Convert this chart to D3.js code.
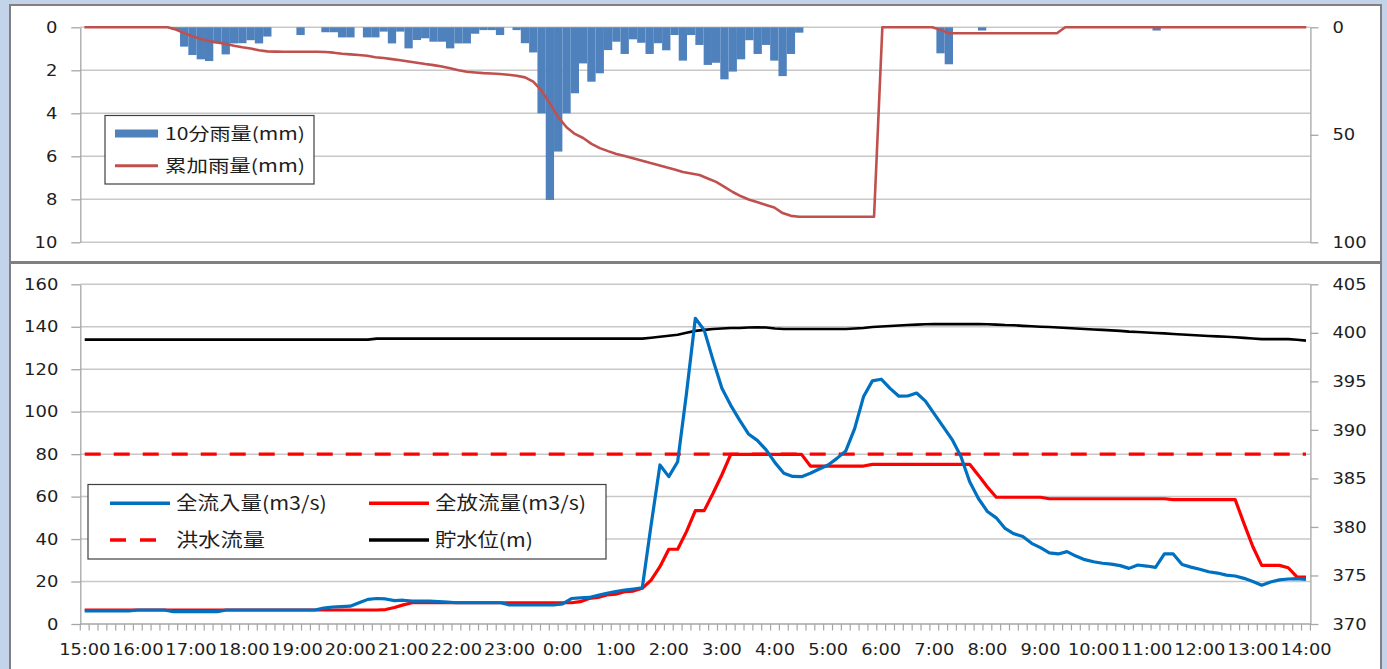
<!DOCTYPE html>
<html>
<head>
<meta charset="utf-8">
<script src="https://cdn.jsdelivr.net/npm/d3@7"></script>
<style>
  html, body { margin: 0; padding: 0; background: #c3d4ea; }
  svg { display: block; }
</style>
</head>
<body>
<svg id="chart" width="1387" height="669"></svg>
<script>
// hour labels shown under the lower chart
const hourLabels = ["15:00","16:00","17:00","18:00","19:00","20:00","21:00","22:00","23:00","0:00","1:00","2:00","3:00",
  "4:00","5:00","6:00","7:00","8:00","9:00","10:00","11:00","12:00","13:00","14:00"];

// 10 minute rainfall (mm), upper chart bars
const rain10 = [
  0,0,0,0,0,0,0,0,0,0,
  0,0.13,0.9,1.29,1.49,1.57,0.75,1.26,0.75,0.74,
  0.6,0.75,0.43,0,0,0,0.36,0,0,0.23,
  0.23,0.47,0.47,0,0.47,0.47,0.2,0.75,0.2,0.98,
  0.59,0.51,0.67,0.67,0.98,0.75,0.75,0.3,0.13,0.13,
  0.36,0,0.13,0.74,1.17,4.0,8.03,5.78,4.0,3.07,
  1.68,2.53,2.14,1.06,0.67,1.24,0.56,0.72,1.24,0.74,
  1.07,0.36,1.55,0.36,0.82,1.75,1.65,2.42,2.06,1.49,
  0.6,1.24,0.82,1.55,2.27,1.24,0.25,0,0,0,
  0,0,0,0,0,0,0,0,0,0,
  0,0,0,1.21,1.72,0,0,0,0.15,0,
  0,0,0,0,0,0,0,0,0,0,
  0,0,0,0,0,0,0,0,0,0.15,
  0,0,0,0,0,0,0,0,0,0,
  0,0,0,0,0,0,0,0
];

// cumulative rainfall (mm), upper chart line, right axis
const cumRain = [
  0,0,0,0,0,0,0,0,0,0,
  0,1.0,2.7,4.2,5.4,6.4,7.1,7.8,8.6,9.3,
  9.9,10.7,11.2,11.3,11.4,11.4,11.4,11.4,11.4,11.5,
  11.8,12.3,12.6,12.9,13.2,13.9,14.3,14.8,15.3,15.9,
  16.5,17.1,17.6,18.2,19.0,20.0,20.7,21.0,21.3,21.5,
  21.7,22.1,22.5,23.3,25.3,29.5,35.5,41.8,46.5,49.6,
  51.5,54.2,56.2,57.6,58.9,59.9,60.9,61.9,63.0,64.0,
  65.1,66.1,67.3,68.0,68.7,70.3,71.9,74.2,76.6,78.6,
  80.2,81.4,82.6,83.8,86.4,87.7,88.1,88.1,88.1,88.1,
  88.1,88.1,88.1,88.1,88.1,88.1,0,0,0,0,
  0,0,0,1.2,2.8,2.8,2.8,2.8,2.8,2.8,
  2.8,2.8,2.8,2.8,2.8,2.8,2.8,2.8,0,0,
  0,0,0,0,0,0,0,0,0,0,
  0,0,0,0,0,0,0,0,0,0,
  0,0,0,0,0,0,0,0
];

// total inflow (m3/s), one row per hour
const inflow = [
  6.2,6.2,6.2,6.2,6.2,6.2,
  6.6,6.6,6.6,6.6,5.8,5.8,
  5.8,5.8,5.8,5.8,6.6,6.6,
  6.6,6.6,6.6,6.6,6.6,6.6,
  6.6,6.6,6.6,7.5,8.0,8.2,
  8.4,10.0,11.6,12.0,11.8,11.0,
  11.2,10.8,10.8,10.8,10.6,10.3,
  10.0,10.0,10.0,10.0,10.0,10.0,
  9.0,9.0,9.0,9.0,9.0,9.0,
  9.5,12.0,12.3,12.5,13.5,14.5,
  15.3,16.0,16.5,17.0,46.6,74.9,
  69.4,76.4,108.7,144.0,138.4,124.3,
  111.0,103.0,96.0,89.5,86.5,82.0,
  76.0,71.0,69.5,69.4,71.0,73.0,
  74.9,78.0,81.5,92.0,107.0,114.5,
  115.3,111.0,107.3,107.4,108.8,105.0,
  99.0,93.0,87.0,79.0,67.0,59.0,
  53.0,50.0,45.0,42.5,41.2,38.0,
  36.0,33.5,33.0,34.1,32.0,30.3,
  29.3,28.6,28.2,27.5,26.2,27.8,
  27.3,26.7,33.0,33.0,28.0,26.8,
  25.8,24.6,24.0,23.0,22.6,21.5,
  20.0,18.3,19.8,20.8,21.2,21.4,
  21.0
];

// total outflow (m3/s)
const outflow = [
  6.6,6.6,6.6,6.6,6.6,6.6,
  6.6,6.6,6.6,6.6,6.6,6.6,
  6.6,6.6,6.6,6.6,6.6,6.6,
  6.6,6.6,6.6,6.6,6.6,6.6,
  6.6,6.6,6.6,6.6,6.6,6.6,
  6.6,6.6,6.6,6.6,6.8,7.8,
  9.0,10.0,10.0,10.0,10.0,10.0,
  10.0,10.0,10.0,10.0,10.0,10.0,
  10.0,10.0,10.0,10.0,10.0,10.0,
  10.0,10.0,10.5,12.0,12.5,13.7,
  14.0,15.2,15.5,16.8,20.7,27.0,
  35.2,35.2,43.5,53.4,53.4,61.6,
  70.3,79.9,79.9,79.9,79.9,79.9,
  79.9,79.9,79.9,79.9,74.4,74.4,
  74.4,74.4,74.4,74.4,74.4,75.2,
  75.2,75.2,75.2,75.2,75.2,75.2,
  75.2,75.2,75.2,75.2,75.2,70.0,
  64.5,59.7,59.7,59.7,59.7,59.7,
  59.7,59.0,59.0,59.0,59.0,59.0,
  59.0,59.0,59.0,59.0,59.0,59.0,
  59.0,59.0,59.0,58.6,58.6,58.6,
  58.6,58.6,58.6,58.6,58.6,47.3,
  36.4,27.6,27.6,27.6,26.5,22.1,
  22.1
];

// reservoir water level (m), right axis
const waterLevel = [
  399.3,399.3,399.3,399.3,399.3,399.3,
  399.3,399.3,399.3,399.3,399.3,399.3,
  399.3,399.3,399.3,399.3,399.3,399.3,
  399.3,399.3,399.3,399.3,399.3,399.3,
  399.3,399.3,399.3,399.3,399.3,399.3,
  399.3,399.3,399.3,399.4,399.4,399.4,
  399.4,399.4,399.4,399.4,399.4,399.4,
  399.4,399.4,399.4,399.4,399.4,399.4,
  399.4,399.4,399.4,399.4,399.4,399.4,
  399.4,399.4,399.4,399.4,399.4,399.4,
  399.4,399.4,399.4,399.4,399.5,399.6,
  399.7,399.8,400.0,400.2,400.3,400.4,
  400.45,400.5,400.5,400.55,400.57,400.55,
  400.45,400.4,400.4,400.4,400.4,400.4,
  400.4,400.4,400.4,400.45,400.5,400.6,
  400.65,400.7,400.75,400.8,400.85,400.88,
  400.9,400.9,400.9,400.9,400.9,400.9,
  400.88,400.85,400.8,400.78,400.72,400.68,
  400.63,400.6,400.55,400.5,400.45,400.4,
  400.35,400.3,400.25,400.2,400.12,400.08,
  400.03,399.98,399.94,399.88,399.83,399.78,
  399.72,399.67,399.63,399.6,399.55,399.48,
  399.42,399.35,399.35,399.35,399.35,399.28,
  399.2
];

const floodFlow = 80;

const rainTicks = [0, 2, 4, 6, 8, 10];
const cumTicks = [0, 50, 100];
const flowTicks = [0, 20, 40, 60, 80, 100, 120, 140, 160];
const levelTicks = [370, 375, 380, 385, 390, 395, 400, 405];

// categories: 10 minute steps from 15:00
const start = new Date(2000, 0, 1, 15, 0);
const fmtHM = d3.timeFormat("%-H:%M");
const fmtKey = d3.timeFormat("%d %H:%M");
const flowTimes = inflow.map((_, i) => fmtHM(d3.timeMinute.offset(start, i * 10)));
const rainTimes = rain10.map((_, i) => fmtKey(d3.timeMinute.offset(start, i * 10)));

const svg = d3.select("#chart");
const L = 80.3, R = 1310.4;
const gridGray = "#c8c8c8", axisGray = "#a6a6a6", textCol = "#1e1e1e";
const numFont = "'DejaVu Sans', Verdana, sans-serif";
const jpFont = "'Noto Sans CJK JP', 'Noto Sans', sans-serif";

function stretch(sel, k) {
  sel.each(function () {
    const w = this.getComputedTextLength();
    d3.select(this).attr("textLength", w * k).attr("lengthAdjust", "spacingAndGlyphs");
  });
}

function styleAxis(g) {
  g.attr("font-size", 16).attr("font-family", numFont);
  g.select(".domain").attr("stroke", axisGray).attr("stroke-width", 1.3);
  g.selectAll(".tick line").attr("stroke", axisGray).attr("stroke-width", 1.3);
  g.selectAll(".tick text").attr("fill", textCol);
  stretch(g.selectAll(".tick text"), 1.12);
}

// panel boxes
svg.append("rect").attr("x", 10).attr("y", 5).attr("width", 1371).attr("height", 257)
  .attr("fill", "#fff").attr("stroke", "#808080").attr("stroke-width", 2);
svg.append("rect").attr("x", 10).attr("y", 263).attr("width", 1371).attr("height", 420)
  .attr("fill", "#fff").attr("stroke", "#808080").attr("stroke-width", 2);

// ---------- upper chart: rainfall ----------
const xRain = d3.scaleBand().domain(rainTimes).range([L, R]).padding(0);
const yRain = d3.scaleLinear().domain([0, 10]).range([27.3, 242.3]);
const yCum = d3.scaleLinear().domain([0, 100]).range([27.3, 242.3]);

svg.append("g").selectAll("line").data(rainTicks).enter().append("line")
  .attr("x1", L).attr("x2", R)
  .attr("y1", d => yRain(d)).attr("y2", d => yRain(d))
  .attr("stroke", gridGray).attr("stroke-width", 1.5);

svg.append("g").selectAll("rect").data(rain10.map((v, i) => ({ t: rainTimes[i], v })).filter(d => d.v > 0))
  .enter().append("rect")
  .attr("x", d => xRain(d.t))
  .attr("width", xRain.bandwidth())
  .attr("y", yRain(0))
  .attr("height", d => yRain(d.v) - yRain(0))
  .attr("fill", "#4f81bd");

const cumLine = d3.line()
  .x((d, i) => xRain(rainTimes[i]) + xRain.bandwidth() / 2)
  .y(d => yCum(d));
svg.append("path").datum(cumRain).attr("d", cumLine)
  .attr("fill", "none").attr("stroke", "#c0504d").attr("stroke-width", 2.6)
  .attr("stroke-linejoin", "round");

svg.append("g").attr("transform", `translate(${L},0)`)
  .call(d3.axisLeft(yRain).tickValues(rainTicks).tickSize(9).tickSizeOuter(0).tickPadding(14))
  .call(styleAxis);
svg.append("g").attr("transform", `translate(${R},0)`)
  .call(d3.axisRight(yCum).tickValues(cumTicks).tickSize(8).tickSizeOuter(0).tickPadding(14))
  .call(styleAxis);

// upper legend
const lg1 = svg.append("g");
lg1.append("rect").attr("x", 105).attr("y", 115.5).attr("width", 209).attr("height", 68.5)
  .attr("fill", "#fff").attr("stroke", "#404040").attr("stroke-width", 1.2);
lg1.append("rect").attr("x", 115).attr("y", 129.5).attr("width", 43).attr("height", 8).attr("fill", "#4f81bd");
lg1.append("line").attr("x1", 115).attr("x2", 158).attr("y1", 165.7).attr("y2", 165.7)
  .attr("stroke", "#c0504d").attr("stroke-width", 3);
[["10分雨量(mm)", 133.5], ["累加雨量(mm)", 166]].forEach(([t, y]) => {
  lg1.append("text").attr("x", 165).attr("y", y).attr("dy", "0.36em")
    .attr("font-family", jpFont).attr("font-size", 17).attr("fill", textCol)
    .attr("textLength", 140).attr("lengthAdjust", "spacingAndGlyphs").text(t);
});

// ---------- lower chart: flows and water level ----------
const xFlow = d3.scaleBand().domain(flowTimes).range([L, R]).padding(0);
const yFlow = d3.scaleLinear().domain([0, 160]).range([624, 284.3]);
const yLevel = d3.scaleLinear().domain([370, 405]).range([624, 284.3]);
const cx = t => xFlow(t) + xFlow.bandwidth() / 2;

svg.append("g").selectAll("line").data(flowTicks).enter().append("line")
  .attr("x1", L).attr("x2", R)
  .attr("y1", d => yFlow(d)).attr("y2", d => yFlow(d))
  .attr("stroke", d => d === 0 ? axisGray : gridGray).attr("stroke-width", 1.5);

// small ticks below the category axis, one per 10 minutes
svg.append("g").selectAll("line").data(flowTimes.map(t => xFlow(t)).concat([R])).enter().append("line")
  .attr("x1", d => d).attr("x2", d => d).attr("y1", 624).attr("y2", 630.5)
  .attr("stroke", axisGray).attr("stroke-width", 1.2);

const levelLine = d3.line().x((d, i) => cx(flowTimes[i])).y(d => yLevel(d));
const flowLine = d3.line().x((d, i) => cx(flowTimes[i])).y(d => yFlow(d));

svg.append("path").datum(waterLevel).attr("d", levelLine)
  .attr("fill", "none").attr("stroke", "#000").attr("stroke-width", 2.6).attr("stroke-linejoin", "round");
svg.append("line")
  .attr("x1", cx(flowTimes[0])).attr("x2", cx(flowTimes[flowTimes.length - 1]))
  .attr("y1", yFlow(floodFlow)).attr("y2", yFlow(floodFlow))
  .attr("stroke", "#ff0000").attr("stroke-width", 3.2).attr("stroke-dasharray", "16,13");
svg.append("path").datum(outflow).attr("d", flowLine)
  .attr("fill", "none").attr("stroke", "#ff0000").attr("stroke-width", 3.2).attr("stroke-linejoin", "round");
svg.append("path").datum(inflow).attr("d", flowLine)
  .attr("fill", "none").attr("stroke", "#0070c0").attr("stroke-width", 3.2).attr("stroke-linejoin", "round");

svg.append("g").attr("transform", `translate(${L},0)`)
  .call(d3.axisLeft(yFlow).tickValues(flowTicks).tickSize(9).tickSizeOuter(0).tickPadding(13))
  .call(styleAxis);
svg.append("g").attr("transform", `translate(${R},0)`)
  .call(d3.axisRight(yLevel).tickValues(levelTicks).tickSize(8).tickSizeOuter(0).tickPadding(14))
  .call(styleAxis);

const xAxisG = svg.append("g").attr("transform", "translate(0,624)")
  .call(d3.axisBottom(xFlow).tickValues(hourLabels).tickSize(0).tickPadding(20));
xAxisG.select(".domain").remove();
xAxisG.attr("font-size", 16).attr("font-family", numFont);
xAxisG.selectAll(".tick text").attr("fill", textCol);
stretch(xAxisG.selectAll(".tick text"), 1.11);

// lower legend
const lg2 = svg.append("g");
lg2.append("rect").attr("x", 88).attr("y", 484.5).attr("width", 518).attr("height", 74.5)
  .attr("fill", "#fff").attr("stroke", "#404040").attr("stroke-width", 1.2);
const legendItems = [
  { label: "全流入量(m3/s)", color: "#0070c0", dash: null, x: 110, y: 503.3, w: 150.7 },
  { label: "全放流量(m3/s)", color: "#ff0000", dash: null, x: 369, y: 503.3, w: 151 },
  { label: "洪水流量", color: "#ff0000", dash: "16,14", x: 110, y: 540, w: 89 },
  { label: "貯水位(m)", color: "#000000", dash: null, x: 369, y: 540, w: 98 }
];
legendItems.forEach(d => {
  lg2.append("line").attr("x1", d.x).attr("x2", d.x + 60).attr("y1", d.y).attr("y2", d.y)
    .attr("stroke", d.color).attr("stroke-width", 3.5).attr("stroke-dasharray", d.dash);
  lg2.append("text").attr("x", d.x + 66).attr("y", d.y).attr("dy", "0.36em")
    .attr("font-family", jpFont).attr("font-size", 19).attr("fill", textCol)
    .attr("textLength", d.w).attr("lengthAdjust", "spacingAndGlyphs").text(d.label);
});
</script>
</body>
</html>
